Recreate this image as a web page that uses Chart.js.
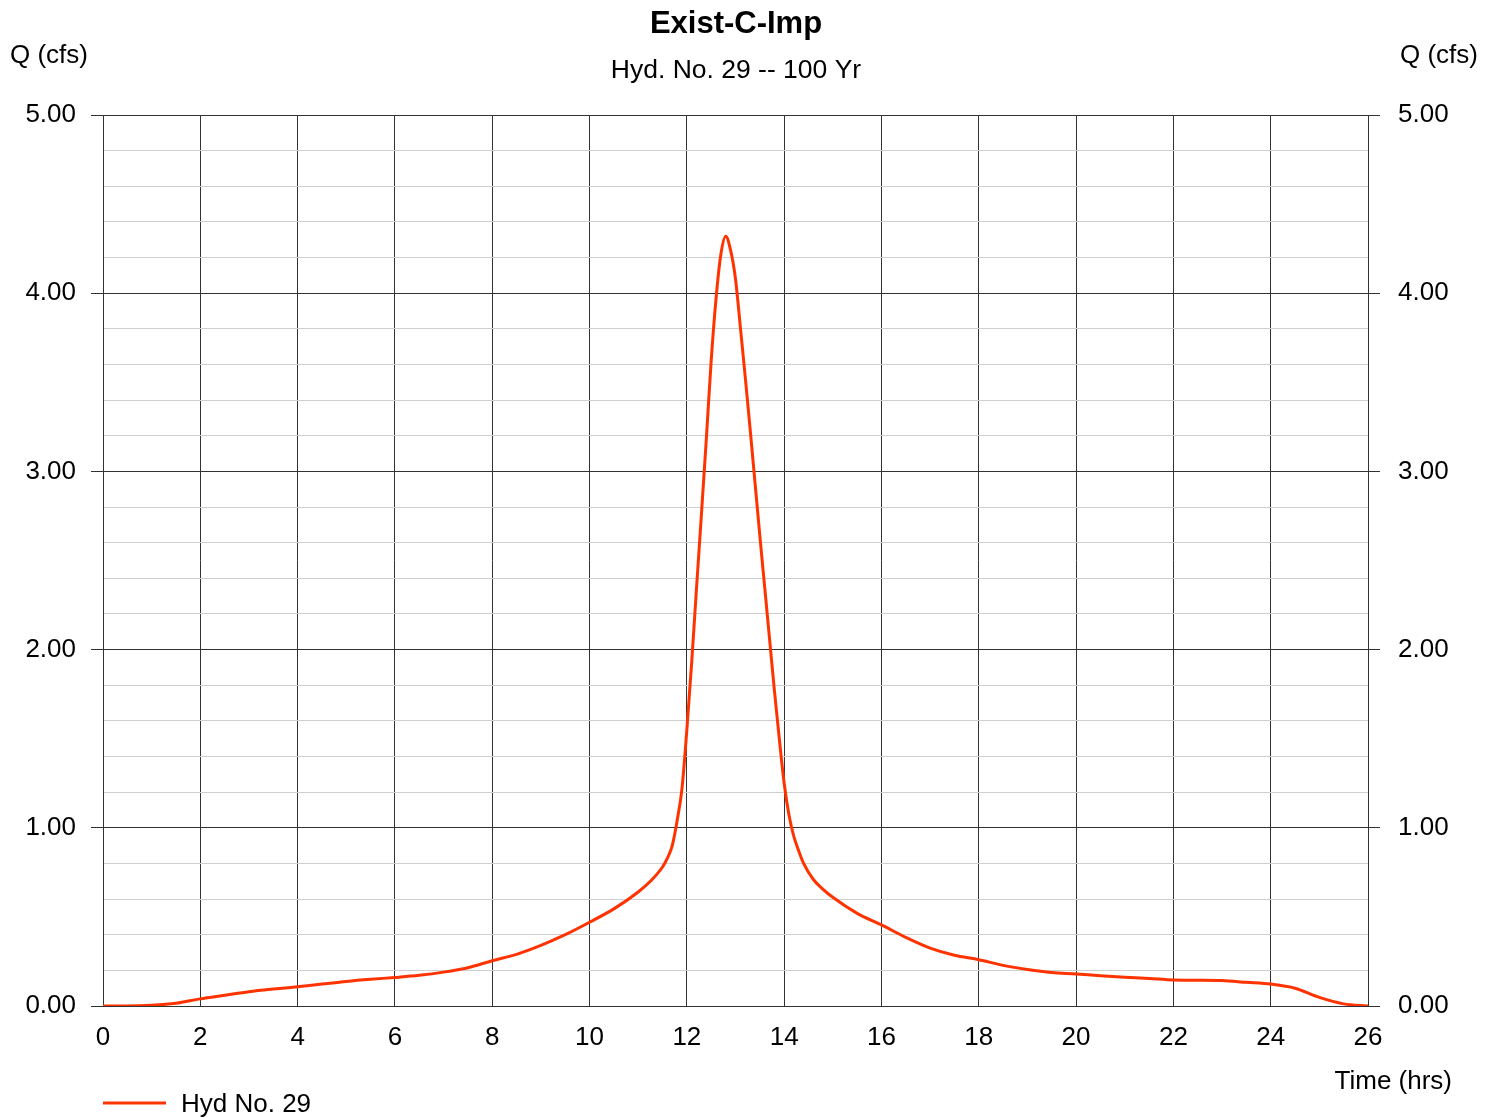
<!DOCTYPE html>
<html lang="en">
<head>
<meta charset="UTF-8" />
<title>Exist-C-Imp</title>
<script src="https://cdn.jsdelivr.net/npm/chart.js"></script>
<style>
  body { margin: 0; background: #fff; }
  canvas { display: block; }
</style>
</head>
<body>
<canvas id="chart" width="1496" height="1118"></canvas>
<script>
  // hydrograph (time in hrs, Q in cfs)
  const hours = [
    0, 0.5, 1, 1.5, 2, 2.5, 3, 3.5, 4, 4.5, 5, 5.5, 6, 6.5, 7, 7.5, 8, 8.5, 9, 9.5,
    10, 10.5, 11, 11.25, 11.5, 11.6, 11.7, 11.8, 11.9, 12, 12.1, 12.2, 12.3, 12.4, 12.5,
    12.6, 12.7, 12.8, 12.9, 13, 13.1, 13.2, 13.3, 13.4, 13.5, 13.6, 13.7, 13.8, 13.9,
    14, 14.1, 14.2, 14.3, 14.4, 14.6, 14.8, 15, 15.5, 16, 16.5, 17, 17.5, 18, 18.5,
    19, 19.5, 20, 20.5, 21, 21.5, 22, 22.5, 23, 23.5, 24, 24.5, 25, 25.5, 26
  ];
  const flow = [
    0, 0, 0.004, 0.015, 0.04, 0.06, 0.08, 0.095, 0.108, 0.123, 0.138, 0.15, 0.16, 0.172, 0.19, 0.215, 0.254, 0.29, 0.34, 0.4,
    0.47, 0.545, 0.64, 0.70, 0.78, 0.83, 0.90, 1.04, 1.22, 1.55, 1.93, 2.35, 2.76, 3.18, 3.62,
    3.97, 4.22, 4.32, 4.24, 4.08, 3.81, 3.53, 3.24, 2.94, 2.64, 2.35, 2.06, 1.77, 1.50,
    1.25, 1.07, 0.95, 0.87, 0.80, 0.71, 0.655, 0.61, 0.52, 0.455, 0.385, 0.325, 0.285, 0.26, 0.228,
    0.205, 0.188, 0.18, 0.17, 0.162, 0.155, 0.146, 0.145, 0.143, 0.133, 0.123, 0.10, 0.048, 0.012, 0
  ];

  const chartTitle = 'Exist-C-Imp';
  const chartSubtitle = 'Hyd. No. 29 -- 100 Yr';
  const yLabel = 'Q (cfs)';
  const xLabel = 'Time (hrs)';
  const seriesName = 'Hyd No. 29';

  const lineColor = '#ff3300';
  const FONT = '"Liberation Sans", Arial, sans-serif';

  const isMajor = v => Math.abs(v - Math.round(v)) < 1e-6;

  const yTicks = {
    stepSize: 0.2,
    autoSkip: false,
    color: '#000',
    font: { family: FONT, size: 26 },
    callback: v => isMajor(v) ? Number(v).toFixed(2) : ''
  };
  const yGrid = {
    color: ctx => isMajor(ctx.tick.value) ? '#333' : '#cfcfcf',
    tickColor: ctx => isMajor(ctx.tick.value) ? '#333' : 'rgba(0,0,0,0)',
    tickLength: 12,
    lineWidth: 1
  };

  // draws titles, axis captions and the legend entry
  const decor = {
    id: 'decor',
    afterDraw(chart) {
      const c = chart.ctx;
      c.save();
      c.fillStyle = '#000';
      c.textBaseline = 'middle';
      c.textAlign = 'center';
      c.font = 'bold 31px ' + FONT;
      c.fillText(chartTitle, 736, 24);
      c.font = '26.5px ' + FONT;
      c.fillText(chartSubtitle, 736, 71);

      c.font = '26px ' + FONT;
      c.textAlign = 'left';
      c.fillText(yLabel, 10, 56);
      c.textAlign = 'right';
      c.fillText(yLabel, 1478, 56);
      c.fillText(xLabel, 1452, 1082);

      c.strokeStyle = lineColor;
      c.lineWidth = 3;
      c.beginPath();
      c.moveTo(103, 1103);
      c.lineTo(166, 1103);
      c.stroke();
      c.textAlign = 'left';
      c.fillText(seriesName, 181, 1105);
      c.restore();
    }
  };

  const ctx = document.getElementById('chart').getContext('2d');
  new Chart(ctx, {
    type: 'line',
    data: {
      datasets: [{
        label: seriesName,
        data: hours.map((h, i) => ({ x: h, y: flow[i] })),
        borderColor: lineColor,
        borderWidth: 3,
        pointRadius: 0,
        cubicInterpolationMode: 'monotone',
        fill: false
      }]
    },
    options: {
      responsive: false,
      animation: false,
      layout: { padding: { top: 115, left: 0, right: 0, bottom: 0 } },
      plugins: {
        legend: { display: false },
        title: { display: false },
        tooltip: { enabled: false }
      },
      scales: {
        x: {
          type: 'linear',
          min: 0,
          max: 26,
          ticks: {
            stepSize: 2,
            autoSkip: false,
            maxRotation: 0,
            padding: 16,
            color: '#000',
            font: { family: FONT, size: 26 }
          },
          grid: { color: '#333', drawTicks: false, lineWidth: 1 },
          border: { color: '#333' },
          afterFit: s => { s.height = 112; }
        },
        y: {
          position: 'left',
          min: 0,
          max: 5,
          ticks: { ...yTicks, padding: 15 },
          grid: yGrid,
          border: { color: '#333' },
          afterFit: s => { s.width = 103; }
        },
        y2: {
          position: 'right',
          min: 0,
          max: 5,
          ticks: { ...yTicks, padding: 18 },
          grid: { ...yGrid, drawOnChartArea: false },
          border: { color: '#333' },
          afterFit: s => { s.width = 128; }
        }
      }
    },
    plugins: [decor]
  });
</script>
</body>
</html>
